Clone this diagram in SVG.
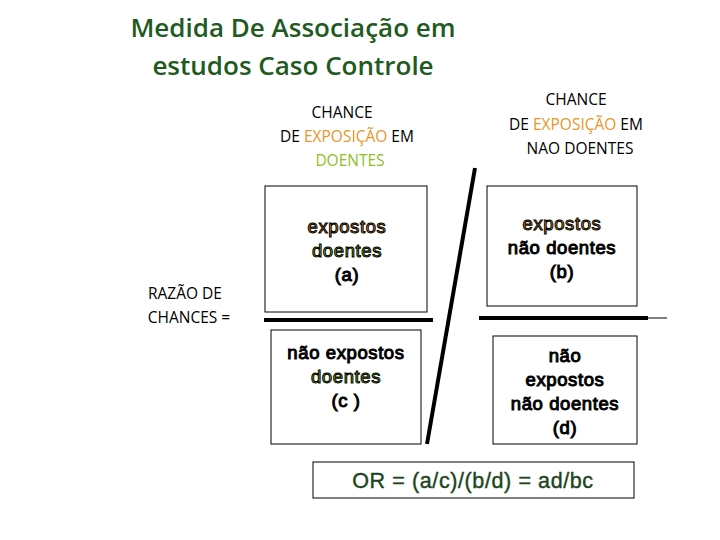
<svg xmlns="http://www.w3.org/2000/svg" width="720" height="540" viewBox="0 0 720 540">
<style>
.c{font-family:"Open Sans","Liberation Sans",sans-serif;font-size:15.5px;font-weight:500;text-anchor:middle;fill:#000}
.a{font-family:"Liberation Sans",Arial,sans-serif;font-size:18.5px;letter-spacing:0.6px;text-anchor:middle;fill:#000;stroke:currentColor}
.o{fill:#e8962a}.g{fill:#8cbf26}
.box{fill:#fff;stroke:#000;stroke-width:1}
</style>
<rect width="720" height="540" fill="#fff"/>
<g id="title"><text x="293" y="37" font-family="Open Sans,Liberation Sans,sans-serif" font-size="26" font-weight="600" fill="#1f5a1f" text-anchor="middle">Medida De Associação em</text>
<text x="293" y="75" font-family="Open Sans,Liberation Sans,sans-serif" font-size="26" font-weight="600" fill="#1f5a1f" text-anchor="middle">estudos Caso Controle</text></g>
<g id="h1"><text class="c" x="342" y="118">CHANCE</text><text class="c" x="347" y="142">DE <tspan class="o">EXPOSIÇÃO</tspan> EM</text><text class="c g" x="350" y="166">DOENTES</text></g>
<g id="h2"><text class="c" x="576" y="105">CHANCE</text><text class="c" x="576" y="130">DE <tspan class="o">EXPOSIÇÃO</tspan> EM</text><text class="c" x="580" y="154">NAO DOENTES</text></g>
<g id="rc"><text class="c" x="185" y="299">RAZÃO DE</text><text class="c" x="189" y="323">CHANCES =</text></g>
<g id="a"><rect class="box" x="265" y="186" width="162" height="126"/><text class="a o" x="347" y="233">expostos</text><text class="a g" x="347" y="257">doentes</text><text class="a" x="347" y="281">(a)</text></g>
<g id="b"><rect class="box" x="487" y="186" width="150" height="120"/><text class="a o" x="562" y="230">expostos</text><text class="a" x="562" y="254">não doentes</text><text class="a" x="562" y="278">(b)</text></g>
<g id="c"><rect class="box" x="271" y="330" width="150" height="114"/><text class="a" x="346" y="359">não expostos</text><text class="a g" x="346" y="383">doentes</text><text class="a" x="346" y="407">(c )</text></g>
<g id="d"><rect class="box" x="493" y="336" width="144" height="108"/><text class="a" x="565" y="362">não</text><text class="a" x="565" y="386">expostos</text><text class="a" x="565" y="410">não doentes</text><text class="a" x="565" y="434">(d)</text></g>
<g id="or"><rect class="box" x="313" y="462" width="321" height="36"/><text x="473" y="488" font-family="Liberation Sans,Arial,sans-serif" font-size="21.5" letter-spacing="0.6" stroke="#1d451d" stroke-width="0.4" fill="#1d451d" text-anchor="middle">OR = (a/c)/(b/d) = ad/bc</text></g>
<g id="connectors" stroke="#000">
<line x1="264" y1="320" x2="433" y2="320" stroke-width="4"/>
<line x1="479" y1="318" x2="648" y2="318" stroke-width="4"/>
<line x1="648" y1="318" x2="667" y2="318" stroke-width="1"/>
<line x1="475" y1="168" x2="427" y2="444" stroke-width="4"/>
</g>
</svg>
